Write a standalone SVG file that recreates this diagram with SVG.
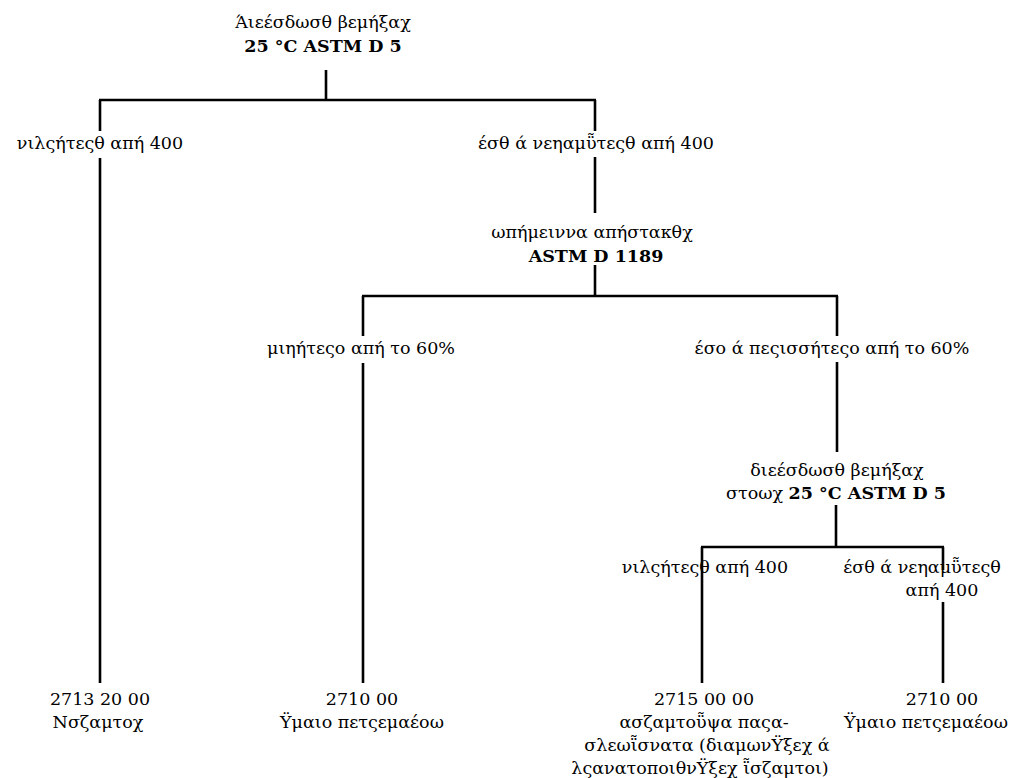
<svg xmlns="http://www.w3.org/2000/svg" width="1023" height="778" viewBox="0 0 1023 778">
<style>
.t text{font-family:"DejaVu Serif","Liberation Serif",serif;font-size:17.5px;fill:#000;text-anchor:middle}
.b{font-weight:bold}
#connectors line{stroke:#000;stroke-width:2.6;stroke-linecap:butt}
</style>
<rect width="1023" height="778" fill="#fff"/>
<g id="connectors">
<line x1="326" y1="70" x2="326" y2="100"/>
<line x1="99" y1="100" x2="596" y2="100"/>
<line x1="100" y1="100" x2="100" y2="131"/>
<line x1="100" y1="158" x2="100" y2="683"/>
<line x1="595" y1="100" x2="595" y2="131"/>
<line x1="595" y1="157" x2="595" y2="213"/>
<line x1="595" y1="265" x2="595" y2="296"/>
<line x1="362" y1="296" x2="838" y2="296"/>
<line x1="363" y1="296" x2="363" y2="336"/>
<line x1="363" y1="363" x2="363" y2="683"/>
<line x1="837" y1="296" x2="837" y2="336"/>
<line x1="837" y1="362" x2="837" y2="452"/>
<line x1="836" y1="505" x2="836" y2="547"/>
<line x1="701" y1="547" x2="944" y2="547"/>
<line x1="702" y1="547" x2="702" y2="683"/>
<line x1="943" y1="547" x2="943" y2="570"/>
<line x1="943" y1="602" x2="943" y2="683"/>
</g>
<g class="t">
<g id="root">
<text x="323" y="28">Άιεέσδωσθ βεμήξαχ</text>
<text x="323" y="52" class="b">25 °C ASTM D 5</text>
</g>
<g id="n-left1"><text x="100" y="149">νιλςήτεςθ απή 400</text></g>
<g id="n-right1"><text x="596" y="149">έσθ ά νεηαμῧτεςθ απή 400</text></g>
<g id="n-ash">
<text x="592" y="238">ωπήμειννα απήστακθχ</text>
<text x="596" y="262" class="b">ASTM D 1189</text>
</g>
<g id="n-le60"><text x="361" y="354">μιηήτεςο απή το 60%</text></g>
<g id="n-gt60"><text x="832" y="354">έσο ά πεςισσήτεςο απή το 60%</text></g>
<g id="n-pen2">
<text x="837" y="476">διεέσδωσθ βεμήξαχ</text>
<text x="836" y="499">στοωχ <tspan class="b">25 °C ASTM D 5</tspan></text>
</g>
<g id="n-left3"><text x="705" y="573">νιλςήτεςθ απή 400</text></g>
<g id="n-right3">
<text x="922" y="573">έσθ ά νεηαμῧτεςθ</text>
<text x="942" y="596">απή 400</text>
</g>
<g id="leaf1">
<text x="100" y="705">2713 20 00</text>
<text x="98" y="728">Νσζαμτοχ</text>
</g>
<g id="leaf2">
<text x="362" y="705">2710 00</text>
<text x="362" y="728">Ϋμαιο πετςεμαέοω</text>
</g>
<g id="leaf3">
<text x="704" y="705">2715 00 00</text>
<text x="704" y="728">ασζαμτοῧψα παςα-</text>
<text x="707" y="751">σλεωῗσνατα (διαμωνΫξεχ ά</text>
<text x="700" y="774">λςανατοποιθνΫξεχ ῗσζαμτοι)</text>
</g>
<g id="leaf4">
<text x="942" y="705">2710 00</text>
<text x="926" y="728">Ϋμαιο πετςεμαέοω</text>
</g>
</g>
</svg>
